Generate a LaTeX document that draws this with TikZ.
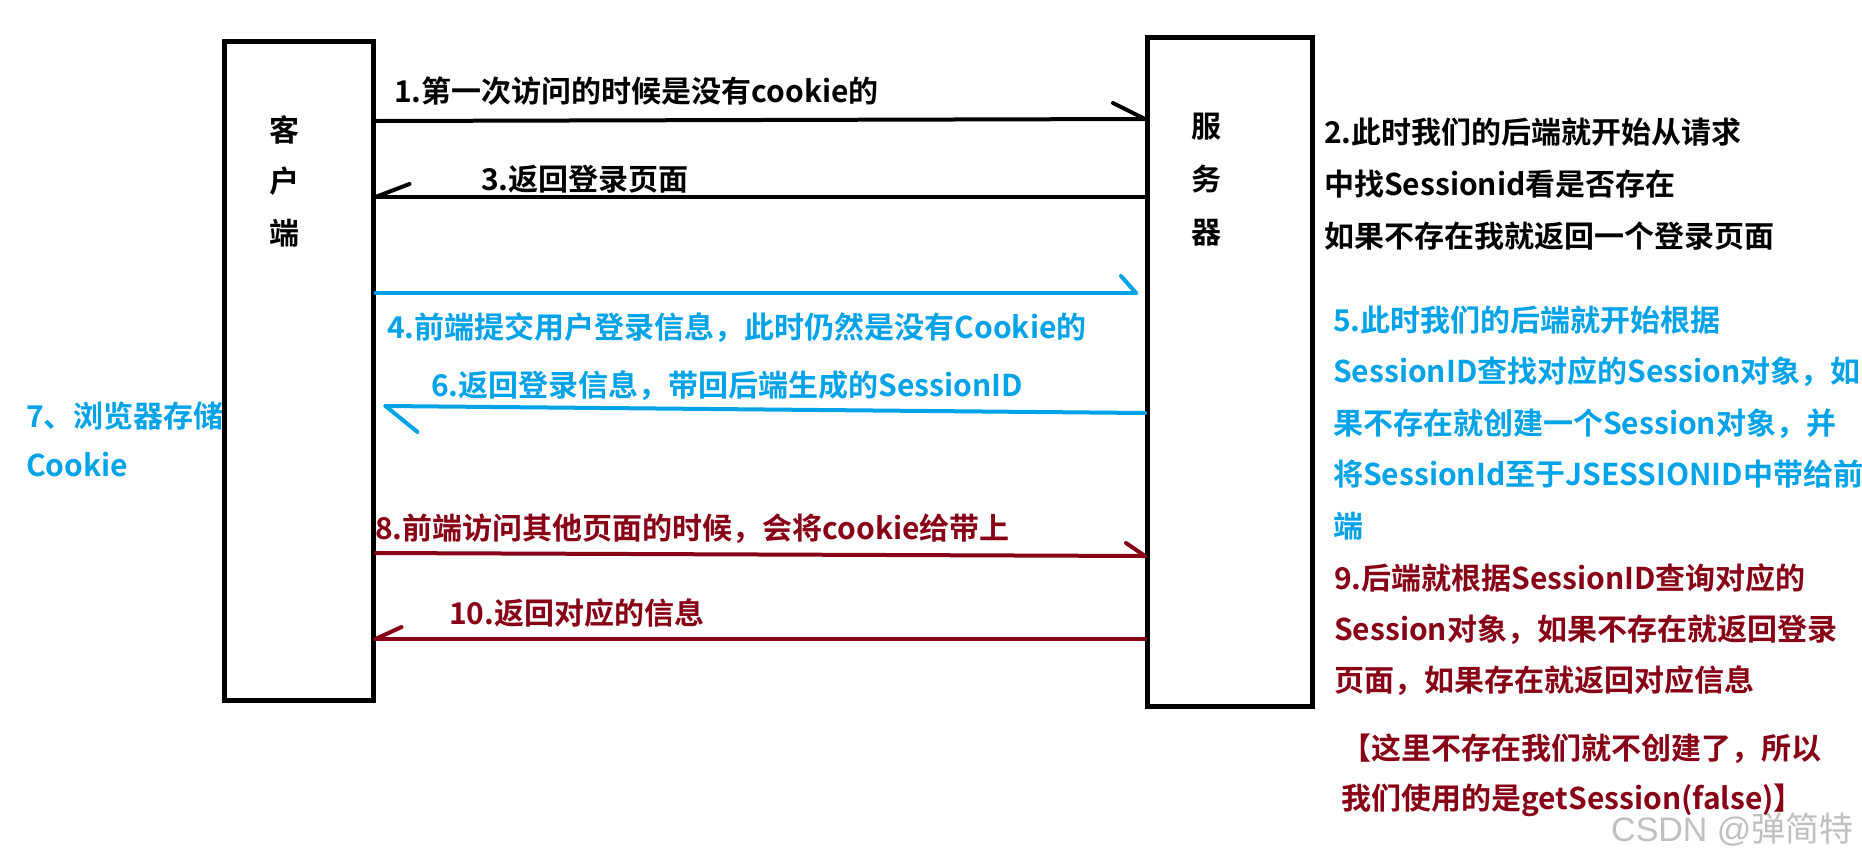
\documentclass[tikz,border=0pt]{standalone}
\usepackage{fontspec}
\setmainfont{Noto Sans CJK SC}[BoldFont=* Bold]
\newfontfamily\wmlat{Liberation Sans}
\usetikzlibrary{calc}
\definecolor{pblue}{HTML}{00A2E8}
\definecolor{pred}{HTML}{880015}
\begin{document}
\begin{tikzpicture}[x=1pt,y=-1pt,
  boxnode/.style={draw=black,line width=5pt,inner sep=0pt},
  arr/.style={line width=4pt,line cap=round},
  lbl/.style={anchor=base west,inner sep=0pt,align=left,font=\bfseries\fontsize{30}{52}\selectfont},
  vlbl/.style={anchor=base,inner sep=0pt,align=center,font=\bfseries\fontsize{30}{52}\selectfont}]
\useasboundingbox[fill=white] (0,0) rectangle (1862,865);

% left note (drawn under the client box); base = last line
\node[lbl,text=pblue,font=\bfseries\fontsize{30}{49}\selectfont] (t7) at (26,476) {7、浏览器存储\\Cookie};

% lifelines
\node[boxnode,minimum width=149pt,minimum height=659pt] (client) at (298.5,370.5) {};
\node[boxnode,minimum width=165pt,minimum height=669pt] (server) at (1230,372) {};
\node[vlbl,font=\bfseries\fontsize{30}{51.5}\selectfont] (clab) at (284,244) {客\\户\\端};
\node[vlbl,font=\bfseries\fontsize{30}{53}\selectfont] (slab) at (1206,243) {服\\务\\器};

% 1
\draw[arr] (client.east|-0,121) -- (server.west|-0,119) coordinate (e1);
\draw[arr] (e1) -- ++(-32,-16);
\node[lbl] (l1) at (394,102) {1.第一次访问的时候是没有cookie的};
% 3
\draw[arr] (server.west|-0,197) -- (client.east|-0,197) coordinate (e3);
\draw[arr] (e3) -- ++(34,-13);
\node[lbl] (l3) at (481,190) {3.返回登录页面};
% 4
\draw[arr,pblue] (client.east|-0,293) -- ($(server.west|-0,293)+(-9,0)$) coordinate (e4);
\draw[arr,pblue] (e4) -- ++(-15,-17);
\node[lbl,text=pblue] (l4) at (387,338) {4.前端提交用户登录信息，此时仍然是没有Cookie的};
% 6
\draw[arr,pblue] (server.west|-0,413) -- ($(client.east|-0,406)+(10,0)$) coordinate (e6);
\draw[arr,pblue] (e6) -- ++(32,26);
\node[lbl,text=pblue] (l6) at (431,396) {6.返回登录信息，带回后端生成的SessionID};
% 8
\draw[arr,pred] (client.east|-0,553) -- (server.west|-0,556) coordinate (e8);
\draw[arr,pred] (e8) -- ++(-19,-13);
\node[lbl,text=pred] (l8) at (375,539) {8.前端访问其他页面的时候，会将cookie给带上};
% 10
\draw[arr,pred] (server.west|-0,639) -- (client.east|-0,639) coordinate (e10);
\draw[arr,pred] (e10) -- ++(26,-12);
\node[lbl,text=pred] (l10) at (449,624) {10.返回对应的信息};

% right notes (base = last line)
\node[lbl] (t2) at (1324,247) {2.此时我们的后端就开始从请求\\中找Sessionid看是否存在\\如果不存在我就返回一个登录页面};
\node[lbl,text=pblue,font=\bfseries\fontsize{30}{51.5}\selectfont] (t5) at (1333,537) {5.此时我们的后端就开始根据\\SessionID查找对应的Session对象，如\\果不存在就创建一个Session对象，并\\将SessionId至于JSESSIONID中带给前\\端};
\node[lbl,text=pred,font=\bfseries\fontsize{30}{51}\selectfont] (t9) at (1334,691) {9.后端就根据SessionID查询对应的\\Session对象，如果不存在就返回登录\\页面，如果存在就返回对应信息};
\node[lbl,text=pred,font=\bfseries\fontsize{30}{50}\selectfont] (tb) at (1341,809) {【这里不存在我们就不创建了，所以\\我们使用的是getSession(false)】};

% watermark
\node[anchor=base west,inner sep=0pt,text=black!25,font=\fontsize{34}{40}\selectfont] (wm) at (1611,841) {{\wmlat CSDN @}弹简特};
\end{tikzpicture}
\end{document}
